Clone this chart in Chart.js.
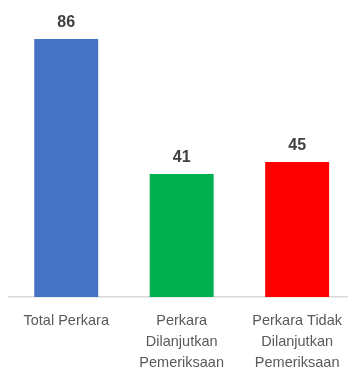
<!DOCTYPE html>
<html>
<head>
<meta charset="utf-8">
<script src="https://cdn.jsdelivr.net/npm/chart.js@4/dist/chart.umd.min.js"></script>
<style>
  html, body { margin: 0; padding: 0; background: #fff; overflow: hidden; }
  #wrap { position: absolute; left: 0; top: 0; width: 355px; height: 368px; }
</style>
</head>
<body>
<div id="wrap"><canvas id="perkaraChart"></canvas></div>
<script>
const categories = [
    ['Total Perkara'],
    ['Perkara', 'Dilanjutkan', 'Pemeriksaan'],
    ['Perkara Tidak', 'Dilanjutkan', 'Pemeriksaan']
];
const jumlahPerkara = [86, 41, 45];
const barColors = ['#4472C4', '#00B050', '#FF0000'];

// value above each bar
const valueLabels = {
    id: 'valueLabels',
    afterDatasetsDraw(chart) {
        const ctx = chart.ctx;
        const meta = chart.getDatasetMeta(0);
        ctx.save();
        ctx.font = 'bold 16px "Liberation Sans", Arial, sans-serif';
        ctx.fillStyle = '#404040';
        ctx.textAlign = 'center';
        ctx.textBaseline = 'middle';
        meta.data.forEach((bar, i) => {
            ctx.fillText(String(jumlahPerkara[i]), bar.x, bar.y - 16.5);
        });
        ctx.restore();
    }
};

new Chart(document.getElementById('perkaraChart'), {
    type: 'bar',
    data: {
        labels: categories,
        datasets: [{
            data: jumlahPerkara,
            backgroundColor: barColors,
            barPercentage: 0.554,
            categoryPercentage: 1
        }]
    },
    options: {
        responsive: true,
        maintainAspectRatio: false,
        animation: false,
        layout: { padding: { top: 27, left: 8.5, right: 0, bottom: 0 } },
        plugins: {
            legend: { display: false },
            tooltip: { enabled: false }
        },
        scales: {
            x: {
                // fixed band under the baseline for the wrapped labels
                afterFit(scale) { scale.height = 71; },
                grid: { display: false, drawTicks: false },
                border: { display: true, color: '#d9d9d9', width: 1.5 },
                ticks: {
                    color: '#595959',
                    padding: 13,
                    maxRotation: 0,
                    autoSkip: false,
                    font: { family: '"Liberation Sans", Arial, sans-serif', size: 14.5, lineHeight: '21px' }
                }
            },
            y: {
                display: false,
                min: 0,
                max: 90
            }
        }
    },
    plugins: [valueLabels]
});
</script>
</body>
</html>
